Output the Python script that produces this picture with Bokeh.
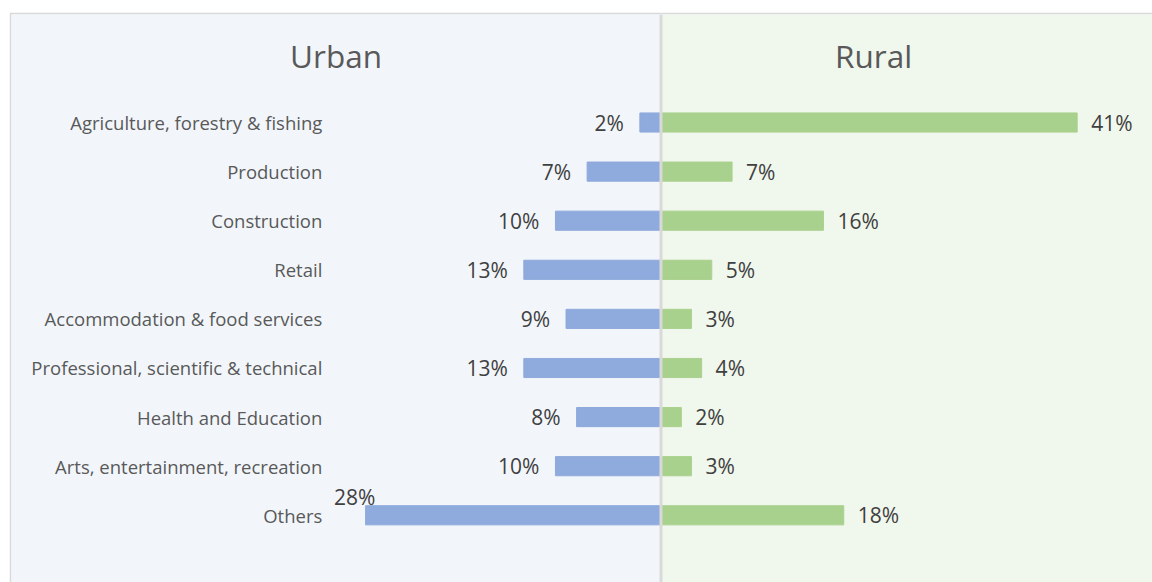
import numpy as np
from bokeh.plotting import figure
from bokeh.models import Range1d, Span, BoxAnnotation
from bokeh.core.properties import value
from bokeh.embed import file_html
from bokeh.resources import INLINE

# ---- data ----
categories = ["Agriculture, forestry & fishing", "Production", "Construction", "Retail",
              "Accommodation & food services", "Professional, scientific & technical",
              "Health and Education", "Arts, entertainment, recreation", "Others"]
urban = [2, 7, 10, 13, 9, 13, 8, 10, 28]
rural = [41, 7, 16, 5, 3, 4, 2, 3, 18]
panel_titles = ["Urban", "Rural"]

FONT = value("Open Sans")
GREY_TXT = "#595959"
VAL_TXT = "#404040"
BLUE = "#8faadc"
GREEN = "#a9d18e"

p = figure(width=1143, height=570, output_backend="svg", toolbar_location=None,
           x_range=Range1d(-61.56, 46.59), y_range=Range1d(9.369, -2.2),
           x_axis_location=None, y_axis_location=None,
           min_border_left=2, min_border_top=2, min_border_right=0, min_border_bottom=0,
           border_fill_color="#d9d9d9", background_fill_color="#f2f6fb",
           outline_line_color=None)
p.margin = (12, 0, 0, 9)
p.extra_x_ranges = {"rural": Range1d(-63.99, 48.42)}
p.grid.visible = False

# right panel background
p.add_layout(BoxAnnotation(left=0, fill_color="#f0f7ec", fill_alpha=1, line_color=None,
                           level="underlay"))

y = np.arange(len(categories))
p.hbar(y=y, left=[-u for u in urban], right=0, height=0.39, color=BLUE)
p.hbar(y=y, left=0, right=rural, height=0.39, color=GREEN, x_range_name="rural")

p.add_layout(Span(location=0, dimension="height", line_color="#d9d9d9", line_width=3))

# category labels
p.text(x=-32.1, y=y, text=categories, text_align="right", text_baseline="middle",
       text_font=FONT, text_font_size=value("18.5px"), text_color=GREY_TXT)

# urban value labels
n = len(categories)
p.text(x=[-u for u in urban[:n - 1]], y=y[:n - 1], text=[f"{u}%" for u in urban[:n - 1]],
       text_align="right", text_baseline="middle", x_offset=-16,
       text_font=FONT, text_font_size=value("21px"), text_color=VAL_TXT)
p.text(x=[-urban[-1]], y=[y[-1]], text=[f"{urban[-1]}%"],
       text_align="center", text_baseline="middle", x_offset=-11, y_offset=-18,
       text_font=FONT, text_font_size=value("21px"), text_color=VAL_TXT)

# rural value labels
p.text(x=rural, y=y, text=[f"{r}%" for r in rural], x_range_name="rural",
       text_align="left", text_baseline="middle", x_offset=14,
       text_font=FONT, text_font_size=value("21px"), text_color=VAL_TXT)

# panel titles
p.text(x=[-30.8], y=[-1.37], text=[panel_titles[0]], text_align="center",
       text_baseline="alphabetic", text_font=FONT, text_font_size=value("31.5px"),
       text_color=GREY_TXT)
p.text(x=[20.94], y=[-1.37], text=[panel_titles[1]], text_align="center",
       text_baseline="alphabetic", text_font=FONT, text_font_size=value("31.5px"),
       text_color=GREY_TXT, x_range_name="rural")

open("out.html", "w").write(file_html(p, INLINE))
